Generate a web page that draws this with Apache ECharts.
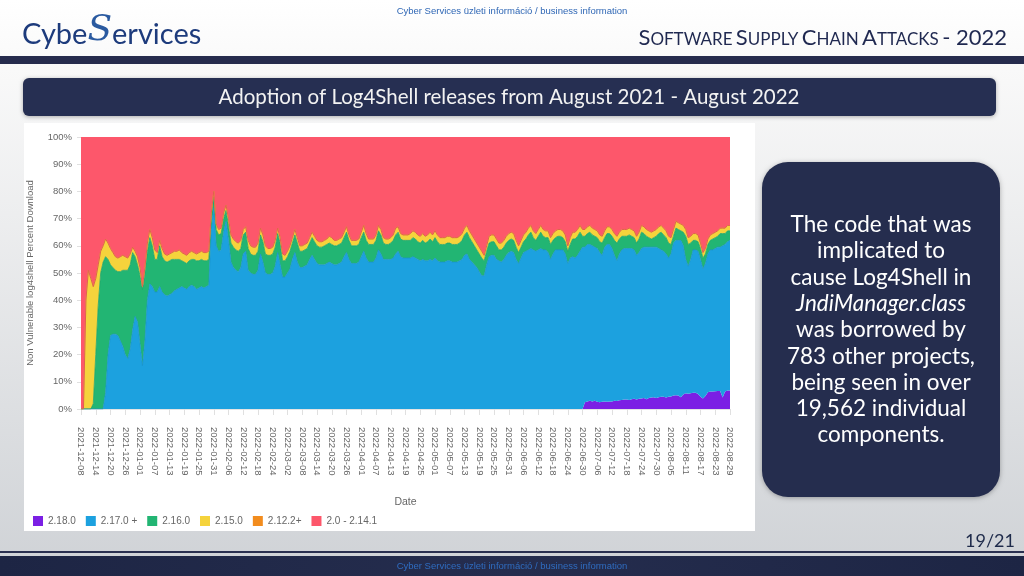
<!DOCTYPE html>
<html>
<head>
<meta charset="utf-8">
<script src="https://cdn.jsdelivr.net/npm/echarts@6/dist/echarts.min.js"></script>
<style>
html,body{margin:0;padding:0;background:#fff;}
#c{width:1024px;height:576px;}
</style>
</head>
<body>
<div id="c"></div>
<script>
// ---- data (percent of downloads per day) ----
const startDate = '2021-12-08';
const seriesNames = ['2.18.0', '2.17.0 +', '2.16.0', '2.15.0', '2.12.2+', '2.0 - 2.14.1'];
const yTickLabels = ['0%','10%','20%','30%','40%','50%','60%','70%','80%','90%','100%'];

const v2_18_0 = [
0,0,0,0,0,0,0,0,0,0, 0,0,0,0,0,0,0,0,0,0,
0,0,0,0,0,0,0,0,0,0, 0,0,0,0,0,0,0,0,0,0,
0,0,0,0,0,0,0,0,0,0, 0,0,0,0,0,0,0,0,0,0,
0,0,0,0,0,0,0,0,0,0, 0,0,0,0,0,0,0,0,0,0,
0,0,0,0,0,0,0,0,0,0, 0,0,0,0,0,0,0,0,0,0,
0,0,0,0,0,0,0,0,0,0, 0,0,0,0,0,0,0,0,0,0,
0,0,0,0,0,0,0,0,0,0, 0,0,0,0,0,0,0,0,0,0,
0,0,0,0,0,0,0,0,0,0, 0,0,0,0,0,0,0,0,0,0,
0,0,0,0,0,0,0,0,0,0, 0,0,0,0,0,0,0,0,0,0,
0,0,0,0,0,0,0,0,0,0, 0,0,0,0,0,0,0,0,0,0,
0,0,0,0,0,2.5,2.8,3,2.8,3,
2.7,2.5,2.7,2.8,2.7,2.8,2.8,3,2.9,3.2,
3.3,3.5,3.5,3.3,3.6,3.8,3.5,3.8,3.9,4,
3.6,4,4.2,4.3,4,4.3,4.5,4.5,4.2,4.5,
4.6,5,5.1,5,4.3,5.3,5.8,5.6,5.8,6,
6,5.5,4.5,3.9,4.8,6.2,6.4,6.4,6.5,6.6,
6.6,4.2,6.4,6.8,6.8
];

const v2_17_0 = [
0,0,0,0,0,0,0,0,0,0,
6,20,27,27.5,27.5,27,25,23,20,18.5,
22,29,34,32,24,16,25,40,46,45,
43,43,45,43,42,41.5,42,42.5,43.5,44,
44.5,45,44.5,44,45,45.5,45,44,44.5,45,
44.5,45,45.5,66,74,60,58,58.5,65,69,
62,54,52,51,50.5,52,57,58,51,50,
49.5,49.5,51,57,54,50,49.5,49.5,50,52.5,
57.5,53,48.5,48.5,50,51.5,55,57.5,54,52,
52,52.5,53,55,56.5,55,53.5,53,53,53,
53.5,54,53.5,53,53,53.5,54,56,57.5,55,
53.5,53.5,53.5,54,56,58,55.5,54,54,54,
55.5,58.5,57,55,55,55,55,55.5,57,58,
56,55.5,55.5,55.5,55.5,56,55.5,55,54.5,55,
54.5,54.5,55,54.5,55.5,54.5,54,54,54,54.5,
54.5,54,54,54,54.5,55,56.5,57,55,54,
53,52,50.5,49,49,53,56,56.5,56.5,55,
54.5,54,55,56.5,57.5,58,57.5,55,53.5,55.5,
57.5,58,58.5,59,58.5,58,58.5,59,58.5,58.5,
57.5,55,57,58.5,58.5,58.5,58.5,57,53.5,55.5,
56,55.5,56.5,58,59.5,57,57.7,57.5,57.2,56.5,
56.3,55,53.8,56.7,57.8,57.7,56.2,53.5,51.6,53.8,
55.2,55.5,55.5,55.7,55.4,54.7,53,53.7,55.1,55.5,
55.9,55.5,55.3,55.2,55.5,54.7,54,53.5,52.8,51,
52.4,56,56.9,57,57.7,54.7,49.2,46.9,49.2,52.5,
52.5,52.5,50.5,47.6,48.7,50.8,52.1,52.1,52.5,52.9,
52.9,55.8,54.1,54.7,55.2
];

const v2_16_0 = [
0,0,0,0,0,2,20,38,50,54,
50,35,26,24.5,23.5,23.5,25.5,28,31,32.5,
31,28.5,22,21,25,28,25,18,17,15,
12,12,15,13,12.5,12.5,12.5,12.5,11.5,11,
10.5,9.5,9.5,9.5,9.5,9.5,10,10.5,10,10,
10,9.5,9.5,4,4,6,6,6,5,4,
5.5,7,7.5,7.5,7.5,7,7,7,8,7,
7,7,7,7,7.5,7,7,7,7,7,
7,8,6,6,6,6.5,6,6.5,7,6,
6,6,6,6,6.5,6.5,6.5,6.5,6.5,7,
7,7,7,7,7,7,7,7,7.5,7,
6.5,6.5,6.5,6.5,7,7,6.5,6.5,6.5,6.5,
6.5,7,7,6,5.5,5.5,6,6.5,7,7,
6.5,6.5,6.5,6.5,6.5,7,7,6.5,6.5,7,
6.5,7,7.5,7,7.5,7,6.5,6.5,6.5,6.5,
6.5,6.5,6.5,6.5,6.5,7,7.5,8,8,7.5,
7,6.5,6.5,6.5,5.5,5,5,5,5,5,
4,4.5,4.5,4.5,4.5,4.5,4.5,4.5,4,4,
4,4.5,5.5,6,4.5,4,5,6,5,4.5,
5.5,5.5,5,4.5,5,5,4.5,4.5,4.5,5,
6.5,7,7,7,4,4,4,4.5,4,4,
4,4,4.5,3.5,4,4,4.5,5.5,6.5,5.5,
5,4.5,4.5,5,4.5,4.5,4.5,5,6,5,
4,3.5,3,3.5,4,5.5,6.5,6,6,5.5,
3.5,2.5,4.5,4,3.5,5,8.5,8,6,3.5,
3.5,3.5,4,4,3.5,3.5,3.5,4,4,4,
5,4.5,4,4,3.5
];

const v2_15_0 = [
0,0,40,51,48,43,28,15,8,6,
6.5,6,6,5.5,5,5,5.5,5.5,5,4.5,
4,2,2,3,3,1,2,3,3,3,
3.5,2.5,2,3,2.5,2.5,2.5,2.5,3,3,
3.5,3,3,3,3,3,2.5,2.5,3,3,
3,3,3,2,2,2,2,2,2,2,
2.5,3,3,3,3,3,2,2,3,3,
3,3,3,2.5,2.5,3,2.5,2.5,2.5,2.5,
2,2,2.5,2,2,2,2,2,2,2,
2,2,2,2,2,2,2,2,2,2,
2,2.5,2.5,2,2,2,2,2,2,2,
2,2,2,2,2,2.5,2.5,2,2,2,
2,2,2,2,2,2,2,2,2.5,2,
2,2,2,2,2.5,2.5,2.5,2.5,2.5,2.5,
2.5,2.5,2.5,2.5,2.5,2.5,2.5,2.5,2.5,2.5,
2.5,2.5,2.5,2.5,2.5,2.5,2.5,2.5,2.5,2.5,
2.5,2.5,2.5,2.5,2,2,2.5,2.5,2.5,2.5,
2.5,2.5,2.5,2.5,2.5,2.5,2.5,2.5,2.5,2.5,
2.5,2.5,2.5,2.5,2.5,2.5,2.5,2.5,2.5,2.5,
2.5,2.5,2.5,2.5,2.5,2.5,2.5,2.5,2,2.5,
2.5,2.5,2.5,2.5,2.5,2.5,2.5,2.5,2.5,2.5,
2.5,2.5,2.5,2.5,2.5,2.5,2.5,2.5,2.5,2.5,
2.5,2.5,2.5,2.5,2.5,2.5,2.5,2.5,2.5,2.5,
2.5,2.5,2.5,2.5,2.5,2.5,2.5,2.5,2.5,2.5,
2.5,2.5,2.5,2.5,2.5,2.5,2.5,2.5,2.5,2.5,
2.5,2.5,2,2,2,2,2,2,2,2,
2,2,2,2,2
];

const v2_12_2 = [
0,0,0,0,0,0,0,0,0,0, 0,0,0,0,0,0,0,0,0,0,
0,0,0,0,0,0,0,0,0,0, 0,0,0,0,0,0,0,0,0,0,
0,0,0,0,0,0,0,0,0,0, 0,0,0,0,0,0,0,0,0,0,
0,0,0,0,0,0,0,0,0,0, 0,0,0,0,0,0,0,0,0,0,
0,0,0,0,0,0,0,0,0,0, 0,0,0,0,0,0,0,0,0,0,
0,0,0,0,0,0,0,0,0,0, 0,0,0,0,0,0,0,0,0,0,
0,0,0,0,0,0,0,0,0,0, 0,0,0,0,0,0,0,0,0,0,
0,0,0,0,0,0,0,0,0,0, 0,0,0,0,0,0,0,0,0,0,
0,0,0,0,0,0,0,0,0,0, 0,0,0,0,0,0,0,0,0,0,
0,0,0,0,0,0,0,0,0,0, 0,0,0,0,0,0,0,0,0,0,
0,0,0,0,0,0,0,0,0,0, 0,0,0,0,0,0,0,0,0,0,
0,0,0,0,0,0,0,0,0,0, 0,0,0,0,0,0,0,0,0,0,
0,0,0,0,0,0,0,0,0,0, 0,0,0,0,0,0,0,0,0,0,
0,0,0,0,0
];

const v2_0_2_14_1 = [
100,100,60,49,52,55,52,47,42,40,
37.5,39,41,42.5,44,44.5,44,43.5,44,44.5,
43,40.5,42,44,48,55,48,39,34,37,
41.5,42.5,38,41,43,43.5,43,42.5,42,42,
41.5,42.5,43,43.5,42.5,42,42.5,43,42.5,42,
42.5,42.5,42,28,20,32,34,33.5,28,25,
30,36,37.5,38.5,39,38,34,33,38,40,
40.5,40.5,39,33.5,36,40,41,41,40.5,38,
33.5,37,43,43.5,42,40,37,34,37,40,
40,39.5,39,37,35,36.5,38,38.5,38.5,38,
37.5,36.5,37,38,38,37.5,37,35,33,36,
38,38,38,37.5,35,32.5,35.5,37.5,37.5,37.5,
36,32.5,34,37,37.5,37.5,37,36,33.5,33,
35.5,36,36,36,35.5,34.5,35,36,36.5,35.5,
36.5,36,35,36,34.5,36,37,37,37,36.5,
36.5,37,37,37,36.5,35.5,33.5,32.5,34.5,36,
37.5,39,40.5,42,43.5,40,36.5,36,36,37.5,
39,39,38,36.5,35.5,35,35.5,38,40,38,
36,35,33.5,32.5,34.5,35.5,34,32.5,34,34.5,
34.5,37,35.5,34.5,34,34,34.5,36,40,37,
35,35,34,32.5,34,34,33,32.5,33.5,34,
34.5,36,36.5,34.5,33,33,34,35.5,36.5,35,
34,34,34,33.5,34,34.5,36.5,35,32.5,33,
34,34.5,35,34.5,34,33,32.5,33.5,34.5,36.5,
37,34,31,31.5,32,32.5,34,37,36.5,35.5,
35.5,36,39,42.5,41,37.5,36,35.5,35,34.5,
33.5,33.5,33.5,32.5,32.5
];

// daily category labels, starting at startDate
const categories = [];
(function () {
  const p = startDate.split('-').map(Number);
  const t0 = Date.UTC(p[0], p[1] - 1, p[2]);
  for (let i = 0; i < v2_0_2_14_1.length; i++) {
    categories.push(new Date(t0 + i * 86400000).toISOString().slice(0, 10));
  }
})();

// ---- styles ----
const colors = ['#7b1fe4', '#1ca1df', '#22b573', '#f5d33c', '#f28c1e', '#fd576b'];
const lineColors = ['#7b1fe4', '#1993cc', '#1fa468', '#e9c52f', '#e0604f', '#fd576b'];
const lineWidths = [0, 0.8, 0.8, 0.8, 1, 0];
const values = [v2_18_0, v2_17_0, v2_16_0, v2_15_0, v2_12_2, v2_0_2_14_1];

const axisFont = 'Liberation Sans, Arial, sans-serif';
const slideFont = 'Lato, "Open Sans", sans-serif';

const chart = echarts.init(document.getElementById('c'), null, {renderer: 'canvas'});

const series = seriesNames.map((name, i) => ({
  name: name,
  type: 'line',
  stack: 'total',
  data: values[i],
  symbol: 'none',
  showSymbol: false,
  smooth: false,
  color: colors[i],
  lineStyle: {width: lineWidths[i], color: lineColors[i]},
  areaStyle: {color: colors[i], opacity: 1},
  emphasis: {disabled: true},
  z: 3
}));

const option = {
  animation: false,
  textStyle: {fontFamily: axisFont},
  graphic: [
    // slide background
    {type: 'rect', z: -100, silent: true, shape: {x: 0, y: 0, width: 1024, height: 576},
     style: {fill: new echarts.graphic.LinearGradient(0, 0, 0, 1, [
       {offset: 0, color: '#ffffff'}, {offset: 0.12, color: '#f9f9f9'}, {offset: 1, color: '#cfd2d6'}])}},
    // header band
    {type: 'rect', z: -90, silent: true, shape: {x: 0, y: 56, width: 1024, height: 8}, style: {fill: '#262c4d'}},
    // footer
    {type: 'rect', z: -90, silent: true, shape: {x: 0, y: 551, width: 1024, height: 2}, style: {fill: '#2a3050'}},
    {type: 'rect', z: -90, silent: true, shape: {x: 0, y: 556, width: 1024, height: 20},
     style: {fill: new echarts.graphic.LinearGradient(0, 0, 1, 0, [
       {offset: 0, color: '#1d2544'}, {offset: 0.5, color: '#252d4e'}, {offset: 1, color: '#1d2544'}])}},
    {type: 'text', z: 50, silent: true, x: 512, y: 566,
     style: {text: 'Cyber Services üzleti információ / business information', fill: '#2f6cc0',
             fontSize: 9.5, fontFamily: 'Liberation Sans Narrow, Liberation Sans, sans-serif', align: 'center', verticalAlign: 'middle'}},
    // top small text
    {type: 'text', z: 50, silent: true, x: 512, y: 11,
     style: {text: 'Cyber Services üzleti információ / business information', fill: '#2f67b5',
             fontSize: 9.5, fontFamily: 'Liberation Sans Narrow, Liberation Sans, sans-serif', align: 'center', verticalAlign: 'middle'}},
    // logo
    {type: 'text', z: 50, silent: true, x: 22, y: 31,
     style: {text: '{a|Cybe}{s|S}{a|ervices}', align: 'left', verticalAlign: 'middle',
             rich: {
               a: {fontSize: 29, fontFamily: slideFont, fill: '#1d3b7c', verticalAlign: 'bottom'},
               s: {fontSize: 36, fontFamily: 'DejaVu Serif, serif', fontStyle: 'italic', fill: '#2a5aa0', verticalAlign: 'bottom'}
             }}},
    // slide title (small caps)
    {type: 'text', z: 50, silent: true, x: 1007, y: 38,
     style: {text: '{c|S}{s|OFTWARE} {c|S}{s|UPPLY} {c|C}{s|HAIN} {c|A}{s|TTACKS} {c|- 2022}', align: 'right', verticalAlign: 'middle',
             rich: {
               c: {fontSize: 22, fontFamily: slideFont, fill: '#1f2850', verticalAlign: 'bottom'},
               s: {fontSize: 17, fontFamily: slideFont, fill: '#1f2850', verticalAlign: 'bottom', padding: [0, 0, 1, 0]}
             }}},
    // title bar
    {type: 'rect', z: -50, silent: true, shape: {x: 23, y: 78, width: 973, height: 38, r: 6},
     style: {fill: '#262f52', shadowBlur: 4, shadowColor: 'rgba(0,0,0,0.3)', shadowOffsetY: 1}},
    {type: 'text', z: 50, silent: true, x: 509, y: 97,
     style: {text: 'Adoption of Log4Shell releases from August 2021 - August 2022', fill: '#f2f2f2',
             fontSize: 20.5, fontFamily: slideFont, align: 'center', verticalAlign: 'middle'}},
    // chart panel
    {type: 'rect', z: -50, silent: true, shape: {x: 24, y: 123, width: 731, height: 408}, style: {fill: '#ffffff'}},
    // right info box
    {type: 'rect', z: -50, silent: true, shape: {x: 762, y: 162, width: 238, height: 335, r: 26},
     style: {fill: '#252d4e', shadowBlur: 5, shadowColor: 'rgba(0,0,0,0.3)', shadowOffsetY: 1}},
    {type: 'text', z: 50, silent: true, x: 881, y: 330,
     style: {text: ['{n|The code that was}', '{n|implicated to}', '{n|cause Log4Shell in}', '{i|JndiManager.class}',
                    '{n|was borrowed by}', '{n|783 other projects,}', '{n|being seen in over}', '{n|19,562 individual}', '{n|components.}'].join('\n'),
             align: 'center', verticalAlign: 'middle', fill: '#ffffff',
             rich: {
               n: {fontSize: 22.5, fontFamily: slideFont, fill: '#ffffff', lineHeight: 26.3},
               i: {fontSize: 22.5, fontFamily: slideFont, fontStyle: 'italic', fill: '#ffffff', lineHeight: 26.3}
             }}},
    // page number
    {type: 'text', z: 50, silent: true, x: 1015, y: 541,
     style: {text: '19/21', fill: '#1e2a4a', fontSize: 18, fontFamily: slideFont, align: 'right', verticalAlign: 'middle'}}
  ],
  legend: {
    data: seriesNames,
    left: 28, top: 511,
    icon: 'rect', itemWidth: 10, itemHeight: 10, itemGap: 10,
    textStyle: {fontSize: 10, color: '#666', fontFamily: axisFont},
    selectedMode: false
  },
  grid: {left: 81, right: 294, top: 137, bottom: 167, containLabel: false},
  xAxis: {
    type: 'category',
    data: categories,
    boundaryGap: false,
    name: 'Date',
    nameLocation: 'middle',
    nameGap: 88,
    nameTextStyle: {fontSize: 10.5, color: '#666', fontFamily: axisFont},
    axisLine: {show: true, lineStyle: {color: '#e4e4e4'}},
    axisTick: {show: true, interval: 5, length: 6, lineStyle: {color: '#e0e0e0'}},
    axisLabel: {interval: 5, rotate: -90, fontSize: 9.5, color: '#666', margin: 18, fontFamily: axisFont},
    splitLine: {show: false}
  },
  yAxis: {
    type: 'value',
    min: 0, max: 100, interval: 10,
    name: 'Non Vulnerable log4shell Percent Download',
    nameLocation: 'middle',
    nameGap: 46,
    nameRotate: 90,
    nameTextStyle: {fontSize: 9.5, color: '#666', fontFamily: axisFont},
    axisLine: {show: false},
    axisTick: {show: true, length: 4, lineStyle: {color: '#e0e0e0'}},
    axisLabel: {fontSize: 9.5, color: '#666', margin: 9, fontFamily: axisFont,
                formatter: function (v) { return yTickLabels[Math.round(v / 10)]; }},
    splitLine: {show: false}
  },
  series: series
};

chart.setOption(option);
</script>
</body>
</html>
